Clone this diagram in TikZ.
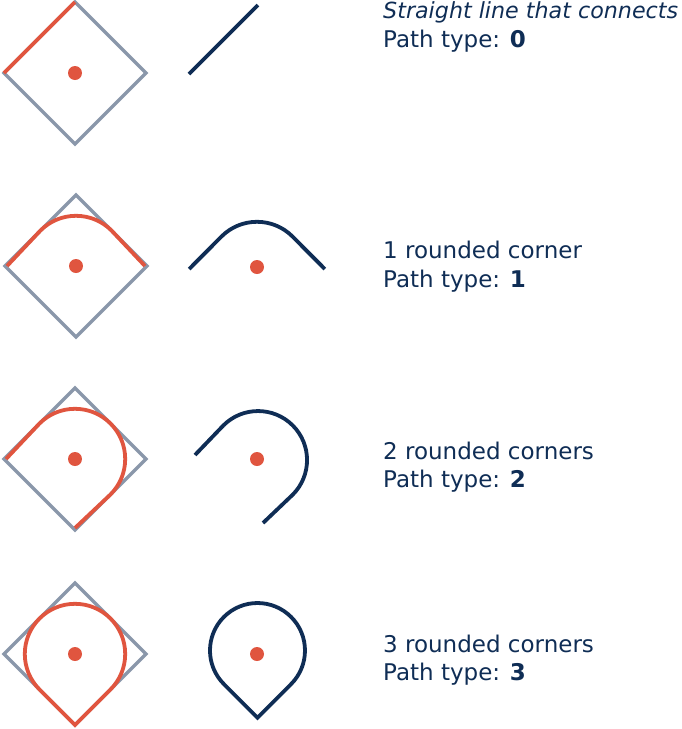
\documentclass[tikz,border=0pt]{standalone}
\usepackage{fontspec}
\setmainfont{DejaVu Sans}
\definecolor{frame}{HTML}{8A97AA}
\definecolor{accent}{HTML}{E0553F}
\definecolor{ink}{HTML}{0F2D55}
\tikzset{
  framebox/.style={draw=frame, line width=3.3pt, line join=miter},
  redpath/.style={draw=accent, line width=3.8pt},
  navypath/.style={draw=ink, line width=3.8pt},
  dotmark/.style={circle, fill=accent, inner sep=0pt, minimum size=14pt},
  label/.style={anchor=base west, inner sep=0pt, text=ink, font=\fontsize{23}{27}\selectfont}
}
\begin{document}
\begin{tikzpicture}[x=1pt,y=1pt]
\useasboundingbox (0,0) rectangle (681,-729);
\def\a{71}
\def\r{50.2}
\def\m{35.5}
% ---------- Row 1 ----------
\begin{scope}[shift={(75,-73)}]
  \draw[framebox] (0,\a) -- (\a,0) -- (0,-\a) -- (-\a,0) -- cycle;
  \draw[redpath] (-\a,0) -- (0,\a);
  \node[dotmark] (d1) at (0,0) {};
\end{scope}
\begin{scope}[shift={(257,-73)}]
  \draw[navypath] (-68,-1) -- (1,68);
\end{scope}
\node[label, font=\fontsize{22.2}{26}\selectfont\itshape] (t1a) at (383,-18) {Straight line that connects};
\node[label] (t1b) at (383,-47) {Path type: \textbf{0}};
% ---------- Row 2 ----------
\begin{scope}[shift={(76,-266)}]
  \draw[framebox] (0,\a) -- (\a,0) -- (0,-\a) -- (-\a,0) -- cycle;
  \draw[redpath] (-\a+2,0) -- (-\m,\m) arc[start angle=135, end angle=45, radius=\r] -- (\a-2,0);
  \node[dotmark] (d2) at (0,0) {};
\end{scope}
\begin{scope}[shift={(257,-272)}]
  \draw[navypath] (-67.8,3) -- (-\m,\m) arc[start angle=135, end angle=45, radius=\r] -- (67.8,3);
\end{scope}
\node[dotmark] (d2b) at (257,-267) {};
\node[label] (t2a) at (383,-258) {1 rounded corner};
\node[label] (t2b) at (383,-287) {Path type: \textbf{1}};
% ---------- Row 3 ----------
\begin{scope}[shift={(75,-459)}]
  \draw[framebox] (0,\a) -- (\a,0) -- (0,-\a) -- (-\a,0) -- cycle;
  \draw[redpath] (-\a+2,0) -- (-\m,\m) arc[start angle=135, end angle=-45, radius=\r] -- (0,-\a+2);
  \node[dotmark] (d3) at (0,0) {};
\end{scope}
\begin{scope}[shift={(258,-460)}]
  \draw[navypath] (-63,5) -- (-34.6,34.6) arc[start angle=135, end angle=-45, radius=49] -- (5,-63);
\end{scope}
\node[dotmark] (d3b) at (257,-459) {};
\node[label] (t3a) at (383,-459) {2 rounded corners};
\node[label] (t3b) at (383,-487) {Path type: \textbf{2}};
% ---------- Row 4 ----------
\begin{scope}[shift={(75,-654)}]
  \draw[framebox] (0,\a) -- (\a,0) -- (0,-\a) -- (-\a,0) -- cycle;
  \draw[redpath, line join=miter] (0,-\a) -- (-\m,-\m) arc[start angle=225, end angle=-45, radius=\r] -- cycle;
  \node[dotmark] (d4) at (0,0) {};
\end{scope}
\begin{scope}[shift={(257.5,-650.5)}]
  \draw[navypath, line join=miter] (0,-67.2) -- (-33.6,-33.6) arc[start angle=225, end angle=-45, radius=47.5] -- cycle;
\end{scope}
\node[dotmark] (d4b) at (257,-654) {};
\node[label] (t4a) at (383,-652) {3 rounded corners};
\node[label] (t4b) at (383,-680) {Path type: \textbf{3}};
\end{tikzpicture}
\end{document}
